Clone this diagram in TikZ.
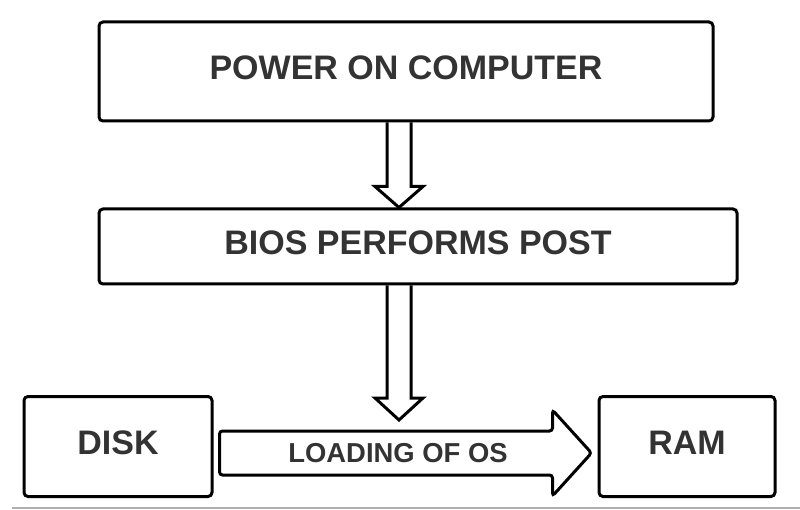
\documentclass[tikz,border=0pt]{standalone}
\usepackage{fontspec}
\setmainfont{Liberation Sans}
\usetikzlibrary{calc}
\definecolor{txt}{HTML}{333333}
\definecolor{rule}{HTML}{B0B0B0}
\begin{document}
\begin{tikzpicture}[x=1pt,y=-1pt,
  box/.style={draw=black, line width=3pt, rounded corners=4pt, inner sep=0pt,
    font=\fontsize{34}{36}\selectfont\bfseries, text=txt, text depth=8pt},
  blockarrow/.style={draw=black, line width=3pt, line join=miter},
]
\useasboundingbox (0,0) rectangle (800,510);
\node[box, minimum width=614pt, minimum height=99pt] (power) at (406,71.5) {POWER ON COMPUTER};
\node[box, minimum width=638pt, minimum height=75pt] (bios) at (418,246.5) {BIOS PERFORMS POST};
\node[box, minimum width=188pt, minimum height=100pt] (disk) at (118,446.5) {DISK};
\node[box, minimum width=176pt, minimum height=100pt] (ram) at (687,446.5) {RAM};
% arrow power -> bios
\coordinate (a1) at (399,0);
\draw[blockarrow] ($(a1 |- power.south)+(-12,0)$) -- ($(a1 |- bios.north)+(-12,-21)$) -- ($(a1 |- bios.north)+(-24,-21)$)
  -- (a1 |- bios.north) -- ($(a1 |- bios.north)+(24,-21)$) -- ($(a1 |- bios.north)+(12,-21)$) -- ($(a1 |- power.south)+(12,0)$);
% arrow bios -> loading
\coordinate (a2tip) at (399,420);
\draw[blockarrow] ($(a1 |- bios.south)+(-12,0)$) -- ($(a2tip)+(-12,-22)$) -- ($(a2tip)+(-24,-22)$)
  -- (a2tip) -- ($(a2tip)+(24,-22)$) -- ($(a2tip)+(12,-22)$) -- ($(a1 |- bios.south)+(12,0)$);
% big arrow disk -> ram
\coordinate (s) at ($(disk.east)+(6,6.5)$);
\coordinate (t) at ($(ram.west)+(-6,6.5)$);
\draw[blockarrow, rounded corners=3pt] ($(s)+(0,-22)$) -- ($(t)+(-39,-22)$) -- ($(t)+(-39,-43)$)
  -- (t) -- ($(t)+(-39,43)$) -- ($(t)+(-39,22)$) -- ($(s)+(0,22)$) -- cycle;
\node[font=\fontsize{27.4}{29}\selectfont\bfseries, text=txt, inner sep=0pt] (load) at (398,453) {LOADING OF OS};
% bottom rule
\coordinate (r1) at (12,508);
\coordinate (r2) at (800,508);
\draw[rule, line width=1.5pt] (r1) -- (r2);
\end{tikzpicture}
\end{document}
